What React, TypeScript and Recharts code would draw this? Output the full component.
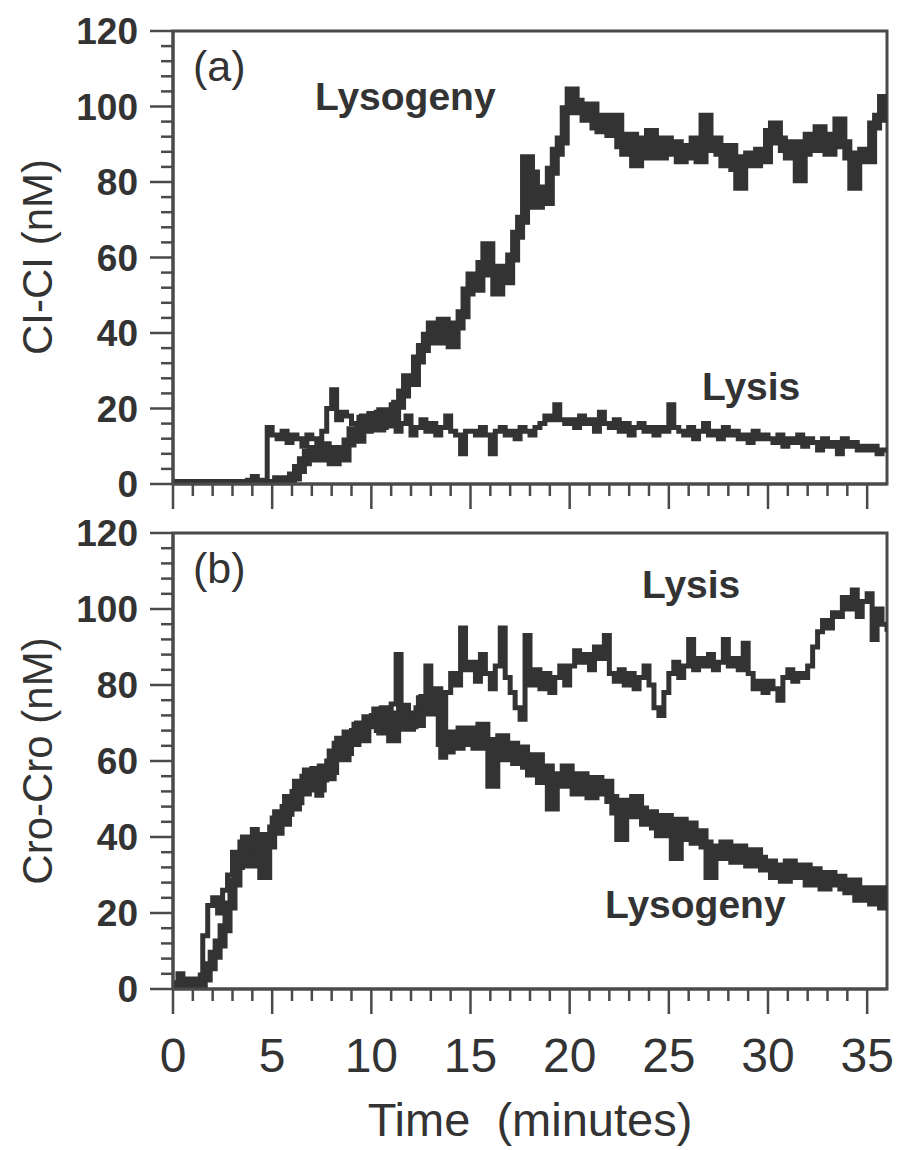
import { LineChart, Line, XAxis, YAxis, ReferenceArea, Customized } from "recharts";

const STEP = 0.25; // sampling interval (minutes)

// (a) CI-CI dimer, nM
const aLysogeny = [
  0, 0, 0, 0, 0, 0, 0, 0, 0, 0, 0, 0, 0, 0, 0, 0, 0, 0, 0, 0,
  0, 1, 0, 1, 2, 4, 6, 8, 9, 7, 10, 8, 6, 9, 7, 11, 14, 12, 17, 15,
  18, 15, 19, 16, 17, 21, 24, 28, 27, 33, 36, 39, 42, 38, 43, 40, 37, 42, 45, 51,
  55, 52, 58, 63, 56, 51, 57, 54, 60, 66, 70, 86, 82, 74, 78, 75, 83, 88, 91, 99,
  104, 101, 99, 97, 100, 95, 94, 97, 93, 97, 90, 88, 92, 85, 91, 87, 93, 89, 87, 91,
  88, 90, 86, 89, 87, 91, 86, 97, 89, 91, 88, 85, 89, 84, 79, 86, 87, 85, 88, 86,
  93, 95, 91, 89, 87, 90, 81, 88, 92, 89, 94, 90, 88, 92, 96, 90, 87, 79, 86, 88,
  86, 95, 97, 102, 96,
];
const aLysis = [
  0, 0, 0, 0, 0, 0, 0, 0, 0, 0, 0, 0, 0, 0, 0, 1, 2, 1, 1, 15,
  13, 12, 14, 11, 13, 12, 10, 13, 12, 11, 14, 20, 25, 17, 19, 18, 16, 15, 18, 14,
  16, 19, 15, 17, 21, 14, 16, 18, 13, 15, 17, 14, 16, 13, 15, 18, 14, 13, 8, 14,
  14, 13, 15, 13, 8, 14, 15, 13, 14, 12, 15, 14, 13, 15, 16, 18, 17, 21, 17, 16,
  17, 15, 18, 16, 17, 14, 19, 16, 15, 17, 14, 16, 13, 15, 16, 14, 15, 13, 15, 14,
  21, 15, 14, 13, 15, 12, 14, 16, 13, 14, 12, 15, 13, 14, 12, 13, 11, 14, 12, 13,
  12, 11, 13, 10, 12, 11, 13, 10, 12, 11, 9, 12, 10, 11, 8, 12, 10, 11, 9, 10,
  9, 10, 8, 9, 9,
];

// (b) Cro-Cro dimer, nM
const bLysogeny = [
  0, 1, 2, 1, 2, 1, 3, 6, 9, 12, 16, 22, 28, 34, 38, 33, 37, 40, 30, 38,
  42, 46, 44, 50, 48, 54, 52, 57, 55, 53, 58, 56, 62, 64, 61, 67, 65, 69, 66, 71,
  70, 73, 68, 72, 66, 71, 74, 69, 72, 70, 76, 73, 78, 76, 65, 63, 67, 64, 68, 65,
  68, 64, 69, 65, 54, 63, 66, 61, 64, 60, 63, 59, 57, 61, 55, 58, 48, 56, 54, 58,
  55, 52, 56, 53, 51, 55, 52, 54, 50, 47, 40, 49, 46, 50, 47, 44, 46, 43, 41, 45,
  42, 35, 44, 40, 43, 39, 41, 38, 30, 37, 35, 38, 36, 34, 37, 35, 33, 36, 34, 32,
  33, 30, 32, 29, 33, 31, 30, 32, 28, 31, 29, 27, 30, 28, 29, 27, 26, 28, 24, 26,
  25, 23, 26, 22, 23,
];
const bLysis = [
  0, 4, 1, 2, 1, 2, 14, 22, 24, 20, 26, 30, 36, 32, 40, 36, 42, 38, 35, 40,
  45, 41, 48, 46, 52, 49, 56, 53, 58, 51, 55, 60, 57, 66, 63, 62, 68, 70, 67, 69,
  72, 68, 74, 70, 75, 88, 73, 71, 69, 74, 77, 85, 76, 79, 61, 78, 83, 80, 95, 84,
  86, 81, 88, 83, 79, 85, 95, 82, 78, 74, 71, 93, 80, 84, 79, 83, 78, 82, 85, 80,
  85, 89, 86, 88, 84, 90, 87, 93, 83, 81, 84, 80, 83, 79, 82, 85, 80, 74, 72, 78,
  83, 86, 82, 85, 92, 84, 87, 85, 88, 84, 86, 92, 85, 87, 84, 91, 83, 79, 81, 78,
  81, 79, 76, 82, 84, 81, 83, 82, 85, 90, 94, 97, 95, 99, 98, 103, 100, 105, 98, 102,
  104, 92, 100, 96, 94,
];

const xTicks = [
  0, 1, 2, 3, 4, 5, 6, 7, 8, 9, 10, 11, 12, 13, 14, 15, 16, 17,
  18, 19, 20, 21, 22, 23, 24, 25, 26, 27, 28, 29, 30, 31, 32, 33, 34, 35,
];
const yTicks = [
  0, 4, 8, 12, 16, 20, 24, 28, 32, 36, 40, 44, 48, 52, 56, 60,
  64, 68, 72, 76, 80, 84, 88, 92, 96, 100, 104, 108, 112, 116, 120,
];

const FONT = '"Liberation Sans", Arial, Helvetica, sans-serif';
const INK = "#333";
const AXIS = "#4a4a4a";

const toRows = (lysogeny: number[], lysis: number[]) =>
  lysogeny.map((v, i) => ({ t: i * STEP, lysogeny: v, lysis: lysis[i] }));

const YTick = (props: any) => {
  const { x, y, payload } = props;
  const major = payload.value % 20 === 0;
  return (
    <g>
      <line x1={x} x2={x - (major ? 23 : 12)} y1={y} y2={y} stroke={AXIS} strokeWidth={2.5} />
      {major && (
        <text x={x - 35} y={y + 13} textAnchor="end" fontSize={37} fontWeight="bold" fontFamily={FONT} fill={INK}>
          {payload.value}
        </text>
      )}
    </g>
  );
};

const makeXTick = (labels: boolean) => (props: any) => {
  const { x, y, payload } = props;
  const major = payload.value % 5 === 0;
  return (
    <g>
      <line x1={x} x2={x} y1={y} y2={y + (major ? 25 : 12)} stroke={AXIS} strokeWidth={2.5} />
      {labels && major && (
        <text x={x} y={y + 83} textAnchor="middle" fontSize={48} fontFamily={FONT} fill={INK}>
          {payload.value}
        </text>
      )}
    </g>
  );
};

const txt = { fontFamily: FONT, fill: INK } as const;

function Panel({ rows, height, top, xHeight, yTitle, yTitleY, labels, annotations }: any) {
  return (
    <LineChart width={899} height={height} data={rows} margin={{ top, right: 12, bottom: 0, left: 0 }}>
      <XAxis
        type="number"
        dataKey="t"
        domain={[0, 36]}
        ticks={xTicks}
        interval={0}
        tickSize={0}
        tickMargin={0}
        tickLine={false}
        axisLine={{ stroke: AXIS, strokeWidth: 3 }}
        height={xHeight}
        tick={makeXTick(labels)}
        allowDataOverflow
      />
      <YAxis
        type="number"
        domain={[0, 120]}
        ticks={yTicks}
        interval={0}
        tickSize={0}
        tickMargin={0}
        tickLine={false}
        axisLine={{ stroke: AXIS, strokeWidth: 3 }}
        width={173}
        tick={YTick}
        allowDataOverflow
      />
      <ReferenceArea x1={0} x2={36} y1={0} y2={120} fill="none" fillOpacity={0} stroke={AXIS} strokeWidth={3} />
      <Line type="stepAfter" dataKey="lysogeny" stroke={INK} strokeWidth={10} dot={false} isAnimationActive={false} />
      <Line type="stepAfter" dataKey="lysis" stroke={INK} strokeWidth={5} dot={false} isAnimationActive={false} />
      <Customized
        component={() => (
          <g>
            <text x={52} y={yTitleY} textAnchor="middle" fontSize={42} transform={`rotate(-90 52 ${yTitleY})`} {...txt}>
              {yTitle}
            </text>
            {annotations}
          </g>
        )}
      />
    </LineChart>
  );
}

export default function App() {
  const rowsA = toRows(aLysogeny, aLysis);
  const rowsB = toRows(bLysogeny, bLysis);
  return (
    <div style={{ position: "absolute", left: 0, top: 0, width: 899, height: 1150, background: "#fff" }}>
      <div style={{ position: "absolute", left: 0, top: 0 }}>
        <Panel
          rows={rowsA}
          height={515}
          top={31}
          xHeight={31}
          yTitle="CI-CI (nM)"
          yTitleY={257}
          labels={false}
          annotations={
            <>
              <text x={193} y={81} fontSize={43} {...txt}>(a)</text>
              <text x={315} y={110} fontSize={39} fontWeight="bold" {...txt}>Lysogeny</text>
              <text x={702} y={400} fontSize={39} fontWeight="bold" {...txt}>Lysis</text>
            </>
          }
        />
      </div>
      <div style={{ position: "absolute", left: 0, top: 490 }}>
        <Panel
          rows={rowsB}
          height={660}
          top={43}
          xHeight={161}
          yTitle="Cro-Cro (nM)"
          yTitleY={271}
          labels={true}
          annotations={
            <>
              <text x={193} y={93} fontSize={43} {...txt}>(b)</text>
              <text x={642} y={108} fontSize={39} fontWeight="bold" {...txt}>Lysis</text>
              <text x={605} y={428} fontSize={39} fontWeight="bold" {...txt}>Lysogeny</text>
              <text x={530} y={646} textAnchor="middle" fontSize={47} xmlSpace="preserve" style={{ whiteSpace: "pre" }} {...txt}>
                {"Time  (minutes)"}
              </text>
            </>
          }
        />
      </div>
    </div>
  );
}
